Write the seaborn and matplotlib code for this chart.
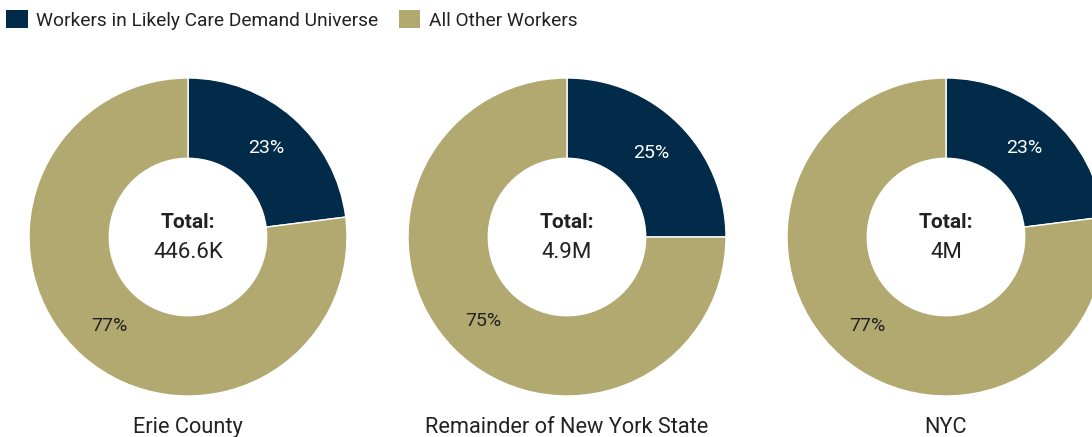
import matplotlib
matplotlib.use("Agg")
import matplotlib.pyplot as plt
from matplotlib.patches import Patch
import seaborn as sns

sns.set_theme(style="white")
plt.rcParams['font.family'] = ['Roboto', 'DejaVu Sans']

regions = ["Erie County", "Remainder of New York State", "NYC"]
care_share = [23, 25, 23]
other_share = [77, 75, 77]
totals = ["446.6K", "4.9M", "4M"]
series_names = ["Workers in Likely Care Demand Universe", "All Other Workers"]
colors = ["#022B4A", "#B1A970"]

W, H = 1092, 437
fig = plt.figure(figsize=(W / 100, H / 100), dpi=100)

centers_x = [188, 567, 946]
cy = 237
R = 159
for i, region in enumerate(regions):
    cx = centers_x[i]
    ax = fig.add_axes([(cx - R) / W, (H - cy - R) / H, 2 * R / W, 2 * R / H])
    vals = [care_share[i], other_share[i]]
    wedges, texts = ax.pie(
        vals, colors=colors, startangle=90, counterclock=False,
        wedgeprops=dict(width=0.505, edgecolor="white", linewidth=1),
        labels=[f"{v}%" for v in vals], labeldistance=0.745,
        textprops=dict(fontsize=14),
    )
    texts[0].set_color("white")
    texts[1].set_color("#222222")
    for t in texts:
        t.set_ha("center")
        t.set_va("center")
    ax.text(0, 0.09, "Total:", ha="center", va="center", fontsize=15,
            fontweight="bold", color="#222222")
    ax.text(0, -0.1, totals[i], ha="center", va="center", fontsize=16,
            color="#222222")
    ax.set_xlim(-1, 1)
    ax.set_ylim(-1, 1)
    ax.set_aspect("equal")
    ax.text(0, -1.195, region, ha="center", va="center", fontsize=15.7,
            color="#222222", clip_on=False)

handles = [Patch(facecolor=c, edgecolor="none") for c in colors]
fig.legend(handles, series_names, loc="upper left", bbox_to_anchor=(-0.002, 0.997),
           ncol=2, frameon=False, fontsize=13.8, handlelength=1.1,
           handleheight=1.1, handletextpad=0.45, columnspacing=1.1,
           borderaxespad=0.1, borderpad=0.35, labelcolor="#222222")

fig.savefig("out.png", dpi=100, facecolor="white")
